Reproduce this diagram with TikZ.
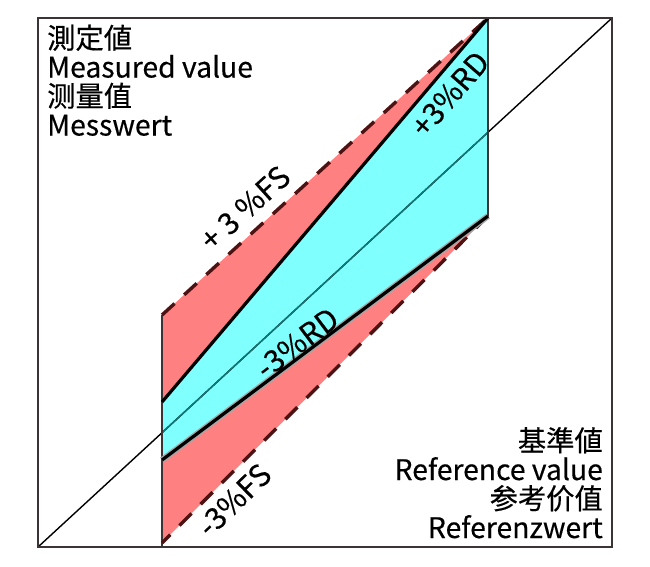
\documentclass[tikz,border=0pt]{standalone}
\usepackage{fontspec}
\setmainfont{Noto Sans CJK JP}[FakeBold=0.35,AutoFakeBold=0]
\newfontfamily\cjksc{Noto Sans CJK SC}[FakeBold=0.35,AutoFakeBold=0]
\usetikzlibrary{positioning}
\definecolor{mred}{HTML}{FF8080}
\definecolor{mcyan}{HTML}{80FFFF}
\definecolor{mdash}{HTML}{4E1212}
\definecolor{mframe}{HTML}{3C3434}
\definecolor{mteal}{HTML}{0E7A7A}
\tikzstyle{boxline} = [draw=mframe, line width=2pt]
\tikzstyle{fsline} = [draw=mdash, line width=3.4pt, dash pattern=on 17pt off 13pt]
\tikzstyle{rdline} = [draw=black, line width=3.2pt]
\tikzstyle{bandtext} = [font=\fontsize{30}{30}\selectfont, inner sep=0pt]
\tikzstyle{axistext} = [font=\fontsize{28.3}{29}\selectfont, inner sep=0pt]

\begin{document}
\begin{tikzpicture}[x=1pt, y=-1pt]
  \useasboundingbox (0,0) rectangle (650,566);
  % corners of the bands
  \coordinate (fstop) at (162,315);
  \coordinate (peak) at (488,18);
  \coordinate (rdtop) at (162,402);
  \coordinate (rdlow) at (162,460);
  \coordinate (rdend) at (488,216);
  \coordinate (fslow) at (162,543);
  \coordinate (origin) at (38,547);
  \coordinate (corner) at (612,18);
  % bands
  \fill [mred] (fstop) -- (peak) -- (rdtop) -- cycle;
  \fill [mcyan] (rdtop) -- (peak) -- (rdend) -- (rdlow) -- cycle;
  \fill [mred] (rdlow) -- (rdend) -- (fslow) -- cycle;
  % ideal line
  \draw [black, line width=1.4pt] (origin) -- (corner);
  \begin{scope}
    \clip (rdtop) -- (peak) -- (rdend) -- (rdlow) -- cycle;
    \draw [mteal, line width=1.4pt] (origin) -- (corner);
  \end{scope}
  \draw [boxline] (fstop) -- (162,547);
  \draw [draw=mframe, line width=1.5pt] (peak) -- (rdend);
  % limits
  \draw [fsline] (fstop) -- (peak);
  \draw [fsline] (rdend) -- (fslow);
  \draw [rdline] (rdtop) -- (peak);
  \draw [draw=gray!70, line width=6pt] (rdlow) -- (rdend);
  \draw [rdline] (rdlow) -- (rdend);
  \draw [boxline] (38,18) rectangle (612,547);
  % texts
  \node (fsplus) [bandtext, rotate=42] at (245,208) {+ 3 \%FS};
  \node (rdplus) [bandtext, rotate=49] at (450,94) {+3\%RD};
  \node (rdminus) [bandtext, rotate=37] at (297,343) {-3\%RD};
  \node (fsminus) [bandtext, rotate=44] at (234,500) {-3\%FS};
  \node (meas1) [axistext, anchor=base west] at (47,48.5) {測定値};
  \node (meas2) [axistext, anchor=base west] at (47,77.5) {Measured value};
  \node (meas3) [axistext, anchor=base west] at (47,106.5) {\cjksc 测量值};
  \node (meas4) [axistext, anchor=base west] at (47,135.5) {Messwert};
  \node (ref1) [axistext, anchor=base east] at (603,451) {基準値};
  \node (ref2) [axistext, anchor=base east] at (603,480) {Reference value};
  \node (ref3) [axistext, anchor=base east] at (603,509) {\cjksc 参考价值};
  \node (ref4) [axistext, anchor=base east] at (603,538) {Referenzwert};
\end{tikzpicture}
\end{document}
